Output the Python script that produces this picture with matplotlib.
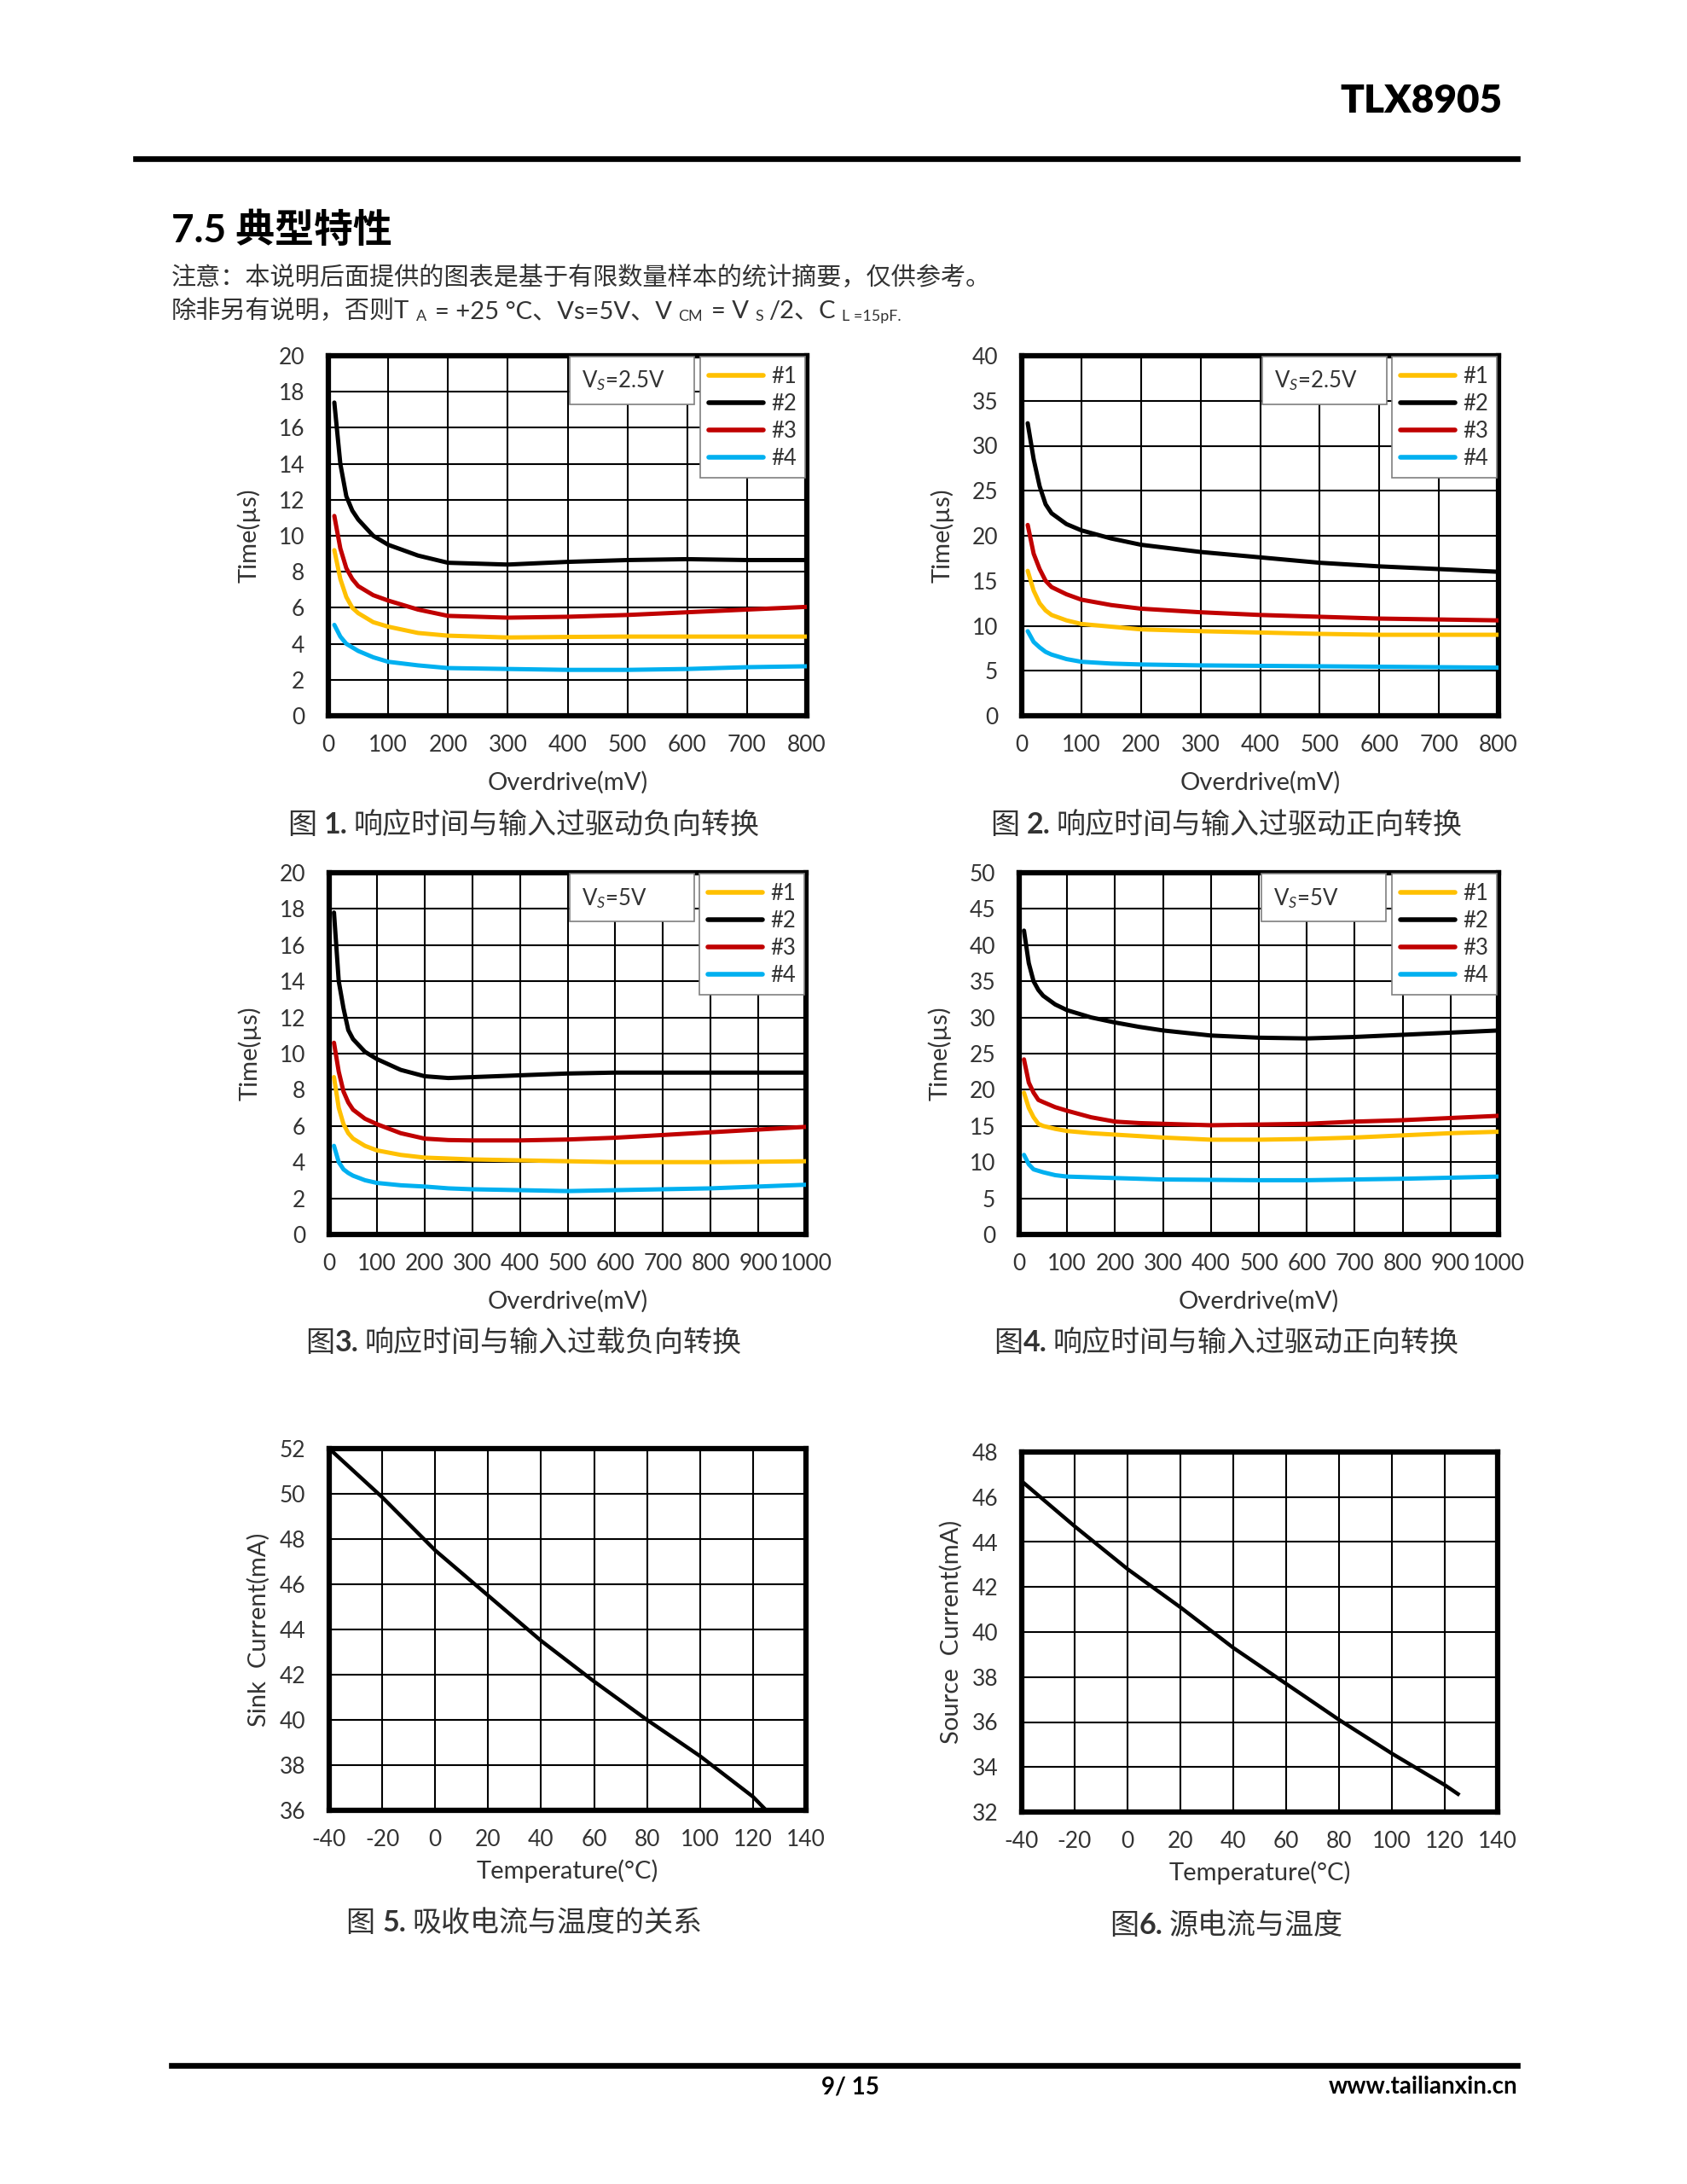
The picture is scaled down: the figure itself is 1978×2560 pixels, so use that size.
import numpy as np
import matplotlib
matplotlib.use('Agg')
import matplotlib.pyplot as plt
from matplotlib.lines import Line2D
from matplotlib.patches import Rectangle

plt.rcParams['font.family'] = ['Lato', 'Noto Sans CJK SC', 'DejaVu Sans']
plt.rcParams['mathtext.fontset'] = 'custom'
plt.rcParams['mathtext.rm'] = 'Lato'
plt.rcParams['mathtext.it'] = 'Lato:italic'
plt.rcParams['axes.unicode_minus'] = False

W, H = 1978, 2560

# ---- data ----
names = ['#1', '#2', '#3', '#4']
colors = ['#FFC000', '#000000', '#C00000', '#00B0F0']

# fig 1: Vs=2.5V, negative transition
f1_x = [10, 20, 30, 40, 50, 75, 100, 150, 200, 300, 400, 500, 600, 700, 800]
f1_y1 = [9.2, 7.6, 6.6, 6.0, 5.7, 5.2, 4.95, 4.6, 4.45, 4.35, 4.38, 4.4, 4.4, 4.4, 4.4]
f1_y2 = [17.4, 14.0, 12.2, 11.4, 10.9, 10.0, 9.5, 8.9, 8.5, 8.4, 8.55, 8.65, 8.7, 8.65, 8.65]
f1_y3 = [11.1, 9.3, 8.2, 7.6, 7.2, 6.7, 6.4, 5.9, 5.55, 5.45, 5.5, 5.6, 5.75, 5.9, 6.05]
f1_y4 = [5.05, 4.4, 4.0, 3.8, 3.6, 3.25, 3.0, 2.8, 2.65, 2.6, 2.55, 2.55, 2.6, 2.7, 2.75]

# fig 2: Vs=2.5V, positive transition
f2_x = [10, 20, 30, 40, 50, 75, 100, 150, 200, 300, 400, 500, 600, 700, 800]
f2_y1 = [16.1, 13.9, 12.5, 11.7, 11.2, 10.6, 10.2, 9.9, 9.6, 9.4, 9.25, 9.1, 9.0, 9.0, 9.0]
f2_y2 = [32.5, 28.5, 25.5, 23.5, 22.5, 21.3, 20.6, 19.7, 19.0, 18.2, 17.6, 17.0, 16.6, 16.3, 16.0]
f2_y3 = [21.2, 18.0, 16.3, 15.0, 14.3, 13.5, 12.9, 12.3, 11.9, 11.5, 11.2, 11.0, 10.8, 10.7, 10.6]
f2_y4 = [9.4, 8.2, 7.6, 7.1, 6.8, 6.3, 6.0, 5.8, 5.7, 5.6, 5.55, 5.5, 5.45, 5.4, 5.35]

# fig 3: Vs=5V, negative transition
f3_x = [10, 20, 30, 40, 50, 75, 100, 150, 200, 250, 300, 400, 500, 600, 700, 800, 900, 1000]
f3_y1 = [8.7, 7.0, 6.1, 5.6, 5.3, 4.9, 4.65, 4.4, 4.25, 4.2, 4.15, 4.1, 4.05, 4.0, 4.0, 4.0, 4.02, 4.05]
f3_y2 = [17.8, 14.0, 12.5, 11.3, 10.8, 10.1, 9.7, 9.1, 8.75, 8.65, 8.7, 8.8, 8.9, 8.95, 8.95, 8.95, 8.95, 8.95]
f3_y3 = [10.6, 9.0, 7.9, 7.3, 6.9, 6.4, 6.1, 5.6, 5.3, 5.22, 5.2, 5.2, 5.25, 5.35, 5.5, 5.65, 5.8, 5.95]
f3_y4 = [4.9, 4.0, 3.6, 3.4, 3.25, 3.0, 2.85, 2.72, 2.65, 2.55, 2.5, 2.45, 2.4, 2.45, 2.5, 2.55, 2.65, 2.75]

# fig 4: Vs=5V, positive transition
f4_x = [10, 20, 30, 40, 50, 75, 100, 150, 200, 250, 300, 400, 500, 600, 700, 800, 900, 1000]
f4_y1 = [19.6, 17.5, 16.2, 15.3, 15.0, 14.6, 14.3, 14.0, 13.8, 13.6, 13.4, 13.1, 13.1, 13.2, 13.4, 13.7, 14.0, 14.2]
f4_y2 = [42.0, 37.5, 35.0, 33.8, 33.0, 31.8, 31.0, 30.0, 29.3, 28.7, 28.2, 27.5, 27.2, 27.1, 27.3, 27.6, 27.9, 28.2]
f4_y3 = [24.2, 21.0, 19.6, 18.6, 18.3, 17.6, 17.1, 16.2, 15.6, 15.4, 15.3, 15.1, 15.2, 15.3, 15.6, 15.8, 16.1, 16.4]
f4_y4 = [11.0, 9.7, 9.0, 8.8, 8.6, 8.2, 8.0, 7.9, 7.8, 7.7, 7.6, 7.55, 7.5, 7.5, 7.6, 7.7, 7.85, 8.0]

# fig 5: sink current vs temperature
f5_t = [-40, -20, 0, 20, 40, 60, 80, 100, 110, 120, 125]
f5_i = [52.0, 49.85, 47.5, 45.5, 43.5, 41.7, 40.0, 38.4, 37.5, 36.6, 36.0]

# fig 6: source current vs temperature
f6_t = [-40, -20, 0, 20, 40, 60, 80, 100, 120, 125]
f6_i = [46.7, 44.7, 42.8, 41.1, 39.3, 37.7, 36.1, 34.6, 33.2, 32.8]

fig = plt.figure(figsize=(W / 100, H / 100), dpi=100)
fig.patch.set_facecolor('white')
rend = fig.canvas.get_renderer()
txt_col = '#333333'


def put_runs(x, y, parts, center=False, color=txt_col):
    # parts: (text, size, weight, dy, gap_before)
    cx = x
    objs = []
    for s, size, weight, dy, gap in parts:
        cx += gap
        t = fig.text(cx / W, 1 - (y + dy) / H, s, fontsize=size, fontweight=weight,
                     color=color, va='baseline', ha='left')
        cx += t.get_window_extent(rend).width
        objs.append(t)
    if center:
        shift = (cx - x) / 2
        for t in objs:
            px, py = t.get_position()
            t.set_position((px - shift / W, py))


def hline(x0, x1, y, lw):
    fig.add_artist(Line2D([x0 / W, x1 / W], [1 - y / H, 1 - y / H], color='black', lw=lw))


def make_ax(l, r, t, b, xlim, xstep, ylim, ystep, xlabel, ylabel, ylpad, xlpad):
    ax = fig.add_axes([l / W, 1 - b / H, (r - l) / W, (b - t) / H])
    ax.set_xlim(xlim)
    ax.set_ylim(ylim)
    ax.set_xticks(np.arange(xlim[0], xlim[1] + 1, xstep))
    ax.set_yticks(np.arange(ylim[0], ylim[1] + 0.01, ystep))
    ax.grid(True, color='black', lw=1.5)
    ax.set_axisbelow(True)
    for sp in ax.spines.values():
        sp.set_linewidth(4.5)
    ax.tick_params(length=0, labelsize=19, labelcolor=txt_col, pad=20, axis='y')
    ax.tick_params(length=0, labelsize=19, labelcolor=txt_col, pad=16, axis='x')
    ax.set_xlabel(xlabel, fontsize=21, color=txt_col, labelpad=xlpad)
    ax.set_ylabel(ylabel, fontsize=21, color=txt_col, labelpad=ylpad)
    return ax


def response_chart(ax, xs, ys_list, vs_text):
    for ys, c, n in zip(ys_list, colors, names):
        ax.plot(xs, ys, color=c, lw=3.6, label=n, zorder=3, solid_capstyle='round')
    ax.add_patch(Rectangle((0.505, 0.865), 0.26, 0.132, transform=ax.transAxes,
                           facecolor='white', edgecolor='#7f7f7f', lw=1.2, zorder=4))
    ax.text(0.53, 0.93, vs_text, transform=ax.transAxes, fontsize=18.5, color=txt_col,
            va='center', ha='left', zorder=5)
    leg = ax.legend(loc='upper right', bbox_to_anchor=(0.997, 0.997), borderaxespad=0,
                    fancybox=False, edgecolor='#7f7f7f', framealpha=1, fontsize=18.5,
                    handlelength=2.5, handletextpad=0.35, labelspacing=0.28, borderpad=0.4)
    leg.get_frame().set_linewidth(1.2)
    leg.set_zorder(6)
    for ln in leg.get_lines():
        ln.set_linewidth(4)
    for t in leg.get_texts():
        t.set_color(txt_col)


ax1 = make_ax(385, 946, 417, 839, (0, 800), 100, (0, 20), 2, 'Overdrive(mV)', 'Time(µs)', 15, 13)
response_chart(ax1, f1_x, [f1_y1, f1_y2, f1_y3, f1_y4], r'V$_{S}$=2.5V')

ax2 = make_ax(1198, 1757, 417, 839, (0, 800), 100, (0, 40), 5, 'Overdrive(mV)', 'Time(µs)', 15, 13)
response_chart(ax2, f2_x, [f2_y1, f2_y2, f2_y3, f2_y4], r'V$_{S}$=2.5V')

ax3 = make_ax(386, 945, 1023, 1447, (0, 1000), 100, (0, 20), 2, 'Overdrive(mV)', 'Time(µs)', 15, 13)
response_chart(ax3, f3_x, [f3_y1, f3_y2, f3_y3, f3_y4], r'V$_{S}$=5V')

ax4 = make_ax(1195, 1757, 1023, 1447, (0, 1000), 100, (0, 50), 5, 'Overdrive(mV)', 'Time(µs)', 15, 13)
response_chart(ax4, f4_x, [f4_y1, f4_y2, f4_y3, f4_y4], r'V$_{S}$=5V')

ax5 = make_ax(386, 945, 1698, 2122, (-40, 140), 20, (36, 52), 2, 'Temperature(°C)', 'Sink  Current(mA)', 8, 7)
ax5.plot(f5_t, f5_i, color='black', lw=3.2, zorder=3)

ax6 = make_ax(1198, 1756, 1702, 2124, (-40, 140), 20, (32, 48), 2, 'Temperature(°C)', 'Source  Current(mA)', 8, 7)
ax6.plot(f6_t, f6_i, color='black', lw=3.2, zorder=3)

# ---- page header ----
fig.text(1761 / W, 1 - 119 / H, 'TLX8905', fontsize=33, fontweight='heavy', ha='right', va='center', color='black')
hline(159, 1779, 186, 4.8)
fig.text(201 / W, 1 - 270 / H, '7.5 典型特性', fontsize=33, fontweight='bold', ha='left', va='center', color='black')
put_runs(201, 334, [('注意：本说明后面提供的图表是基于有限数量样本的统计摘要，仅供参考。', 21, 'normal', 0, 0)])
put_runs(201, 373, [('除非另有说明，否则T', 21, 'normal', 0, 0),
                    ('A', 13, 'normal', 3, 8),
                    ('= +25 °C、Vs=5V、V', 21, 'normal', 0, 10),
                    ('CM', 13, 'normal', 3, 7),
                    ('= V', 21, 'normal', 0, 10),
                    ('S', 13, 'normal', 3, 7),
                    ('/2、C', 21, 'normal', 0, 6),
                    ('L =15pF.', 13, 'normal', 3, 8)])

# ---- captions ----
cap = 24.5
put_runs(614, 977, [('图', cap, 'normal', 0, 0), ('1.', cap, 'bold', 0, 9),
                    ('响应时间与输入过驱动负向转换', cap, 'normal', 0, 7)], center=True)
put_runs(1438, 977, [('图', cap, 'normal', 0, 0), ('2.', cap, 'bold', 0, 9),
                     ('响应时间与输入过驱动正向转换', cap, 'normal', 0, 7)], center=True)
put_runs(614, 1584, [('图', cap, 'normal', 0, 0), ('3.', cap, 'bold', 0, 0),
                     ('响应时间与输入过载负向转换', cap, 'normal', 0, 7)], center=True)
put_runs(1438, 1584, [('图', cap, 'normal', 0, 0), ('4.', cap, 'bold', 0, 0),
                      ('响应时间与输入过驱动正向转换', cap, 'normal', 0, 7)], center=True)
put_runs(614, 2264, [('图', cap, 'normal', 0, 0), ('5.', cap, 'bold', 0, 9),
                     ('吸收电流与温度的关系', cap, 'normal', 0, 7)], center=True)
put_runs(1438, 2267, [('图', cap, 'normal', 0, 0), ('6.', cap, 'bold', 0, 0),
                      ('源电流与温度', cap, 'normal', 0, 7)], center=True)

# ---- footer ----
hline(201, 1779, 2421, 4.8)
fig.text(997 / W, 1 - 2446 / H, '9/ 15', fontsize=20, fontweight='bold', ha='center', va='center', color='black')
fig.text(1779 / W, 1 - 2446 / H, 'www.tailianxin.cn', fontsize=20, fontweight='bold', ha='right', va='center', color='black')

fig.savefig('out.png', dpi=100, facecolor='white')
